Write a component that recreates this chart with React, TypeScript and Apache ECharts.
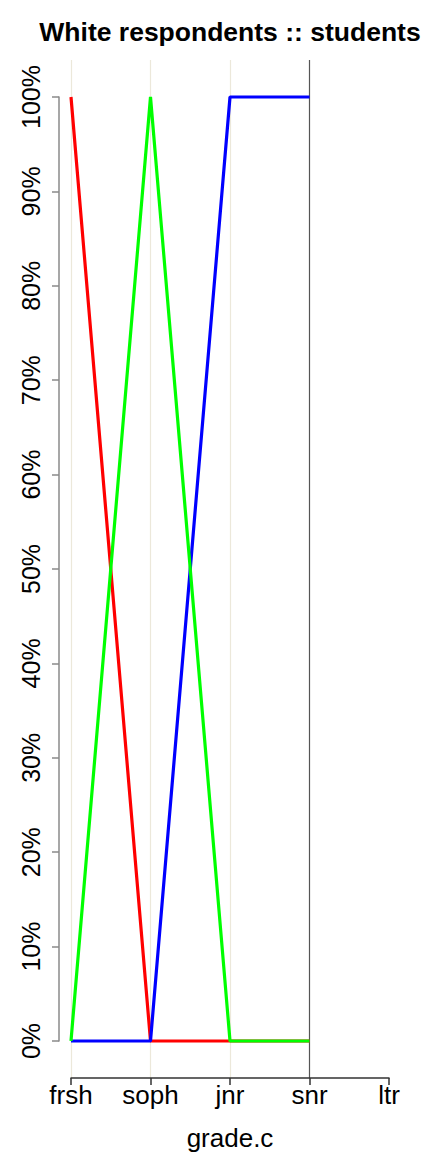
import React, { useEffect, useRef } from "react";
import * as echarts from "echarts";

const categories = ["frsh", "soph", "jnr", "snr", "ltr"];
const redValues = [1, 0, 0, 0];
const greenValues = [0, 1, 0, 0];
const blueValues = [0, 0, 1, 1];
const yTicks = [0, 0.1, 0.2, 0.3, 0.4, 0.5, 0.6, 0.7, 0.8, 0.9, 1];
const titleText = "White respondents :: students";
const xName = "grade.c";

const FONT = "'Liberation Sans', Arial, Helvetica, sans-serif";

export default function App() {
  const ref = useRef<HTMLDivElement>(null);
  useEffect(() => {
    document.body.style.margin = "0";
    if (!ref.current) return;
    const chart = echarts.init(ref.current, undefined, { renderer: "svg" });
    const lineSeries = (name: string, data: number[], color: string) => ({
      name,
      type: "line",
      xAxisIndex: 1,
      yAxisIndex: 1,
      data,
      symbol: "none",
      lineStyle: { color, width: 3.2 },
      silent: true,
    });
    chart.setOption({
      animation: false,
      backgroundColor: "#ffffff",
      textStyle: { fontFamily: FONT },
      grid: [
        { left: 59, right: 300, top: 97, bottom: 111 },
        { left: 71, right: 43, top: 60, bottom: 74 },
      ],
      xAxis: [
        { gridIndex: 0, type: "value", show: false },
        {
          gridIndex: 1,
          type: "category",
          data: categories,
          boundaryGap: false,
          axisLine: { show: true, onZero: false, lineStyle: { color: "#333333", width: 1.5 } },
          axisTick: { show: true, length: 7, lineStyle: { color: "#333333", width: 1.5 } },
          axisLabel: { fontSize: 26, color: "#000", margin: 4, fontFamily: FONT },
          splitLine: {
            show: true,
            lineStyle: {
              color: ["#ece8da", "#ece8da", "#ece8da", "#555555", "rgba(0,0,0,0)"],
              width: 1.2,
            },
          },
        },
      ],
      yAxis: [
        {
          gridIndex: 0,
          type: "value",
          min: 0,
          max: 1,
          interval: 0.1,
          axisLine: { show: true, lineStyle: { color: "#8a8a8a", width: 1.5 } },
          axisTick: { show: true, length: 7, lineStyle: { color: "#8a8a8a", width: 1.5 } },
          axisLabel: {
            fontSize: 25,
            color: "#000",
            rotate: 90,
            margin: 16,
            fontFamily: FONT,
            customValues: yTicks,
            formatter: (v: number) => Math.round(v * 100) + "%",
          },
          splitLine: { show: false },
        },
        { gridIndex: 1, type: "value", min: -0.0392, max: 1.0392, show: false },
      ],
      graphic: [
        {
          type: "text",
          x: 230,
          y: 32,
          style: {
            text: titleText,
            fontSize: 26.5,
            fontWeight: "bold",
            fontFamily: FONT,
            fill: "#000",
            align: "center",
            verticalAlign: "middle",
          },
        },
        {
          type: "text",
          x: 230,
          y: 1138,
          style: {
            text: xName,
            fontSize: 26,
            fontFamily: FONT,
            fill: "#000",
            align: "center",
            verticalAlign: "middle",
          },
        },
      ],
      series: [
        lineSeries("red", redValues, "#ff0000"),
        lineSeries("blue", blueValues, "#0000ff"),
        lineSeries("green", greenValues, "#00ff00"),
      ],
    });
    return () => chart.dispose();
  }, []);
  return <div ref={ref} style={{ width: 432, height: 1152 }} />;
}
